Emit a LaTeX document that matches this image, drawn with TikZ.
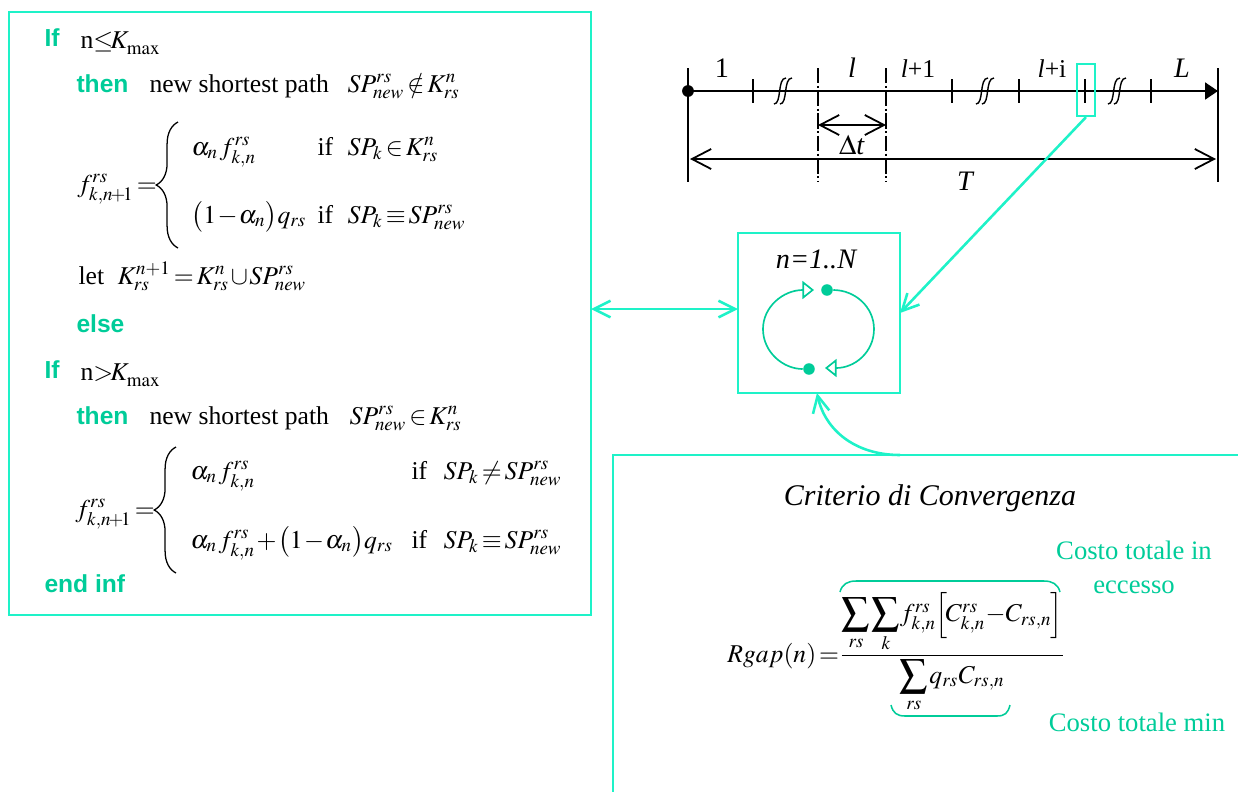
\documentclass[tikz,border=0pt]{standalone}
\usepackage{mathptmx}
\usepackage{graphicx}
\usepackage[no-math]{fontspec}
\setmainfont{Liberation Serif}
\newfontfamily\kwfont{Liberation Sans}
\usetikzlibrary{arrows.meta,decorations.pathreplacing}
\definecolor{framecyan}{HTML}{1EF2C8}
\definecolor{kwgreen}{HTML}{00CC99}
\thinmuskip=1mu
\medmuskip=1mu
\thickmuskip=2mu
\nulldelimiterspace=0pt
\newcommand{\fkn}{f^{rs}_{k,n}}
\newcommand{\fnext}{f^{rs}_{k,n\mkern-2mu+\mkern-2mu1}}
\newcommand{\SPnew}{SP^{rs}_{new}}
\newcommand{\Krs}{K^{n}_{rs}}
\newcommand{\Kmax}{K^{\vphantom{n}}_{\mathrm{max}}}
\newcommand{\bigsum}{\mathop{\vcenter{\hbox{\scalebox{1.08}{$\displaystyle\sum$}}}}\limits}
\tikzset{
    txt/.style={anchor=base west, inner sep=0pt},
    keyword/.style={txt, text=kwgreen, font=\kwfont\bfseries\fontsize{9.6}{12}\selectfont},
    lab/.style={anchor=base, inner sep=0pt},
    seglab/.style={lab, font=\fontsize{11}{13}\selectfont},
    note/.style={lab, text=kwgreen, font=\fontsize{10.4}{12}\selectfont},
    framebox/.style={draw=framecyan, line width=0.85pt, inner sep=0pt},
    link/.style={draw=framecyan, line width=1pt},
    barb/.style={line width=0.7pt},
    looparc/.style={draw=kwgreen, line width=0.65pt},
    hbrace/.style={draw=kwgreen, line width=0.6pt},
    dotg/.style={circle, fill=kwgreen, inner sep=0pt, minimum size=4.5pt}
}
\begin{document}
\begin{tikzpicture}[x=0.39pt,y=-0.39pt]
    \useasboundingbox (0,0) rectangle (1238,792);

    % Riquadri
    \node[framebox, minimum width=226.98pt, minimum height=235.17pt] (algbox) at (300,313.5) {};
    \node[framebox, minimum width=63.18pt, minimum height=62.4pt] (loopbox) at (819,313) {};
    \coordinate (critleft) at (613,455);
    \coordinate (critright) at (1238,455);
    \coordinate (critbottom) at (613,792);
    \draw[link] (critright) -- (critleft) -- (critbottom);

    % Primo blocco
    \node[keyword] (if1) at (44,46) {If};
    \node[txt] (cond1) at (80,48) {n$\le\mkern-4mu\Kmax$};
    \node[keyword] (then1) at (76,92) {then};
    \node[txt] (path1) at (149,92) {new shortest path};
    \node[txt] (path1m) at (347,92) {$\SPnew\notin\Krs$};
    \node[txt] (flow1) at (77,192) {$\fnext=$};
    \node[txt] (case1a) at (191,155) {$\alpha_n\,\fkn$};
    \node[txt] (case1ai) at (317,155) {if};
    \node[txt] (case1am) at (347,155) {$SP_k\in\Krs$};
    \node[txt] (case1b) at (191,223) {$\bigl(1-\alpha_n\bigr)q_{rs}$};
    \node[txt] (case1bi) at (317,223) {if};
    \node[txt] (case1bm) at (347,223) {$SP_k\equiv\SPnew$};
    \node[txt] (let1) at (78,284) {let};
    \node[txt] (let1m) at (117,284) {$K^{n+1}_{rs}=\Krs\cup\SPnew$};
    \node[keyword] (else1) at (76,332) {else};

    % Secondo blocco
    \node[keyword] (if2) at (44,378) {If};
    \node[txt] (cond2) at (80,380) {n$>\mkern-4mu\Kmax$};
    \node[keyword] (then2) at (76,424) {then};
    \node[txt] (path2) at (149,424) {new shortest path};
    \node[txt] (path2m) at (349,424) {$\SPnew\in\Krs$};
    \node[txt] (flow2) at (75,517) {$\fnext=$};
    \node[txt] (case2a) at (190,479) {$\alpha_n\,\fkn$};
    \node[txt] (case2ai) at (411,479) {if};
    \node[txt] (case2am) at (443,479) {$SP_k\ne\SPnew$};
    \node[txt] (case2b) at (190,548) {$\alpha_n\,\fkn+\bigl(1-\alpha_n\bigr)q_{rs}$};
    \node[txt] (case2bi) at (411,548) {if};
    \node[txt] (case2bm) at (443,548) {$SP_k\equiv\SPnew$};
    \node[keyword] (endif) at (44,592) {end inf};

    % Graffe
    \draw[decorate, decoration={brace, amplitude=8.5pt}, line width=0.5pt] (178,248) -- (178,122);
    \draw[decorate, decoration={brace, amplitude=8.5pt}, line width=0.5pt] (176,573) -- (176,447);

    % Asse dei tempi
    \coordinate (tstart) at (688,91);
    \coordinate (tend) at (1218,91);
    \draw[line width=0.95pt, -{Triangle[length=5pt,width=6.5pt]}] (tstart) -- (tend);
    \node[circle, fill=black, inner sep=0pt, minimum size=4.6pt] (tdot) at (tstart) {};
    \draw[line width=0.55pt] (688,68) -- (688,182);
    \draw[line width=0.55pt] (1218,68) -- (1218,182);
    \foreach \x in {753,952,1151}
        \draw[line width=0.9pt] (\x,79) -- (\x,103);
    \foreach \x in {1019,1085}
        \draw[line width=0.65pt] (\x,79) -- (\x,103);
    \foreach \x in {818,886}
        \draw[line width=0.5pt, dash pattern=on 6pt off 1pt on 0.8pt off 1pt] (\x,68) -- (\x,182);
    \foreach \x in {783,985,1117} {
        \draw[line width=0.55pt] (\x-9,104) .. controls (\x-1,104) and (\x-6,78) .. (\x+3,78);
        \draw[line width=0.55pt] (\x-3,104) .. controls (\x+5,104) and (\x,78) .. (\x+9,78);
    }
    \node[seglab] (seg1) at (722,77) {1};
    \node[seglab] (segl) at (852,77) {\itshape l};
    \node[lab] (segl1) at (918,77) {\textit{l}+1};
    \node[lab] (segli) at (1052,77) {\textit{l}+i};
    \node[seglab] (segL) at (1182,77) {\itshape L};

    % Quote
    \coordinate (dta) at (818,125);
    \coordinate (dtb) at (886,125);
    \coordinate (ta) at (690,159);
    \coordinate (tb) at (1216,159);
    \draw[barb, {Straight Barb[length=7.5pt,width=7.8pt]}-{Straight Barb[length=7.5pt,width=7.8pt]}] (dta) -- (dtb);
    \draw[barb, {Straight Barb[length=7.5pt,width=7.8pt]}-{Straight Barb[length=7.5pt,width=7.8pt]}] (ta) -- (tb);
    \node[seglab] (dtlab) at (852,154) {$\Delta$\textit{t}};
    \node[seglab] (tlab) at (965,190) {\itshape T};

    % Collegamenti
    \node[framebox, minimum width=7pt, minimum height=20.3pt] (pick) at (1086,90) {};
    \coordinate (algport) at (591,309);
    \coordinate (loopin) at (738,309);
    \coordinate (loopright) at (900,313);
    \coordinate (loopbot) at (817,393);
    \draw[link, {Straight Barb[length=6.5pt,width=6.5pt]}-{Straight Barb[length=6.5pt,width=6.5pt]}] (algport) -- (loopin);
    \draw[link, -{Straight Barb[length=6.5pt,width=6.5pt]}] (pick.south) -- (loopright);
    \draw[link, -{Straight Barb[length=6.5pt,width=6.5pt]}] (900,455) .. controls (855,455) and (825,430) .. (loopbot);

    % Ciclo
    \node[lab] (iter) at (816,268) {\fontsize{11}{13}\selectfont\itshape n=1..N};
    \node[dotg] (dottop) at (827,290) {};
    \node[dotg] (dotbot) at (809,369) {};
    \coordinate (tipl) at (814,290);
    \coordinate (tipr) at (825,368);
    \draw[looparc, -{Triangle[open,length=4.5pt,width=7pt]}] (dotbot) .. controls (783,369) and (763,352) .. (763,329) .. controls (763,307) and (783,290) .. (tipl);
    \draw[looparc, -{Triangle[open,length=4.5pt,width=7pt]}] (dottop) .. controls (855,290) and (874,307) .. (874,329) .. controls (874,352) and (855,368) .. (tipr);

    % Criterio di convergenza
    \node[lab] (crit) at (930,505) {\fontsize{11.7}{14}\selectfont\itshape Criterio di Convergenza};
    \node[inner sep=0pt] (rgap) at (895,652) {$\displaystyle Rgap(n)=\frac{\bigsum_{rs}\bigsum_{k}\!\fkn\!\Bigl[\!C^{rs}_{k,n}\!-\!C_{rs,n}\!\Bigr]}{\bigsum_{rs}q_{rs}C_{rs,n}}$};
    \draw[hbrace] (840,592) .. controls (842,584) and (848,581) .. (856,581) -- (1044,581) .. controls (1052,581) and (1058,584) .. (1060,592);
    \draw[hbrace] (891,705) .. controls (893,713) and (897,716) .. (905,716) -- (997,716) .. controls (1005,716) and (1008,713) .. (1010,705);
    \node[note] (cost1) at (1134,559) {Costo totale in};
    \node[note] (cost2) at (1134,593) {eccesso};
    \node[note] (cost3) at (1137,731) {Costo totale min};
\end{tikzpicture}
\end{document}
